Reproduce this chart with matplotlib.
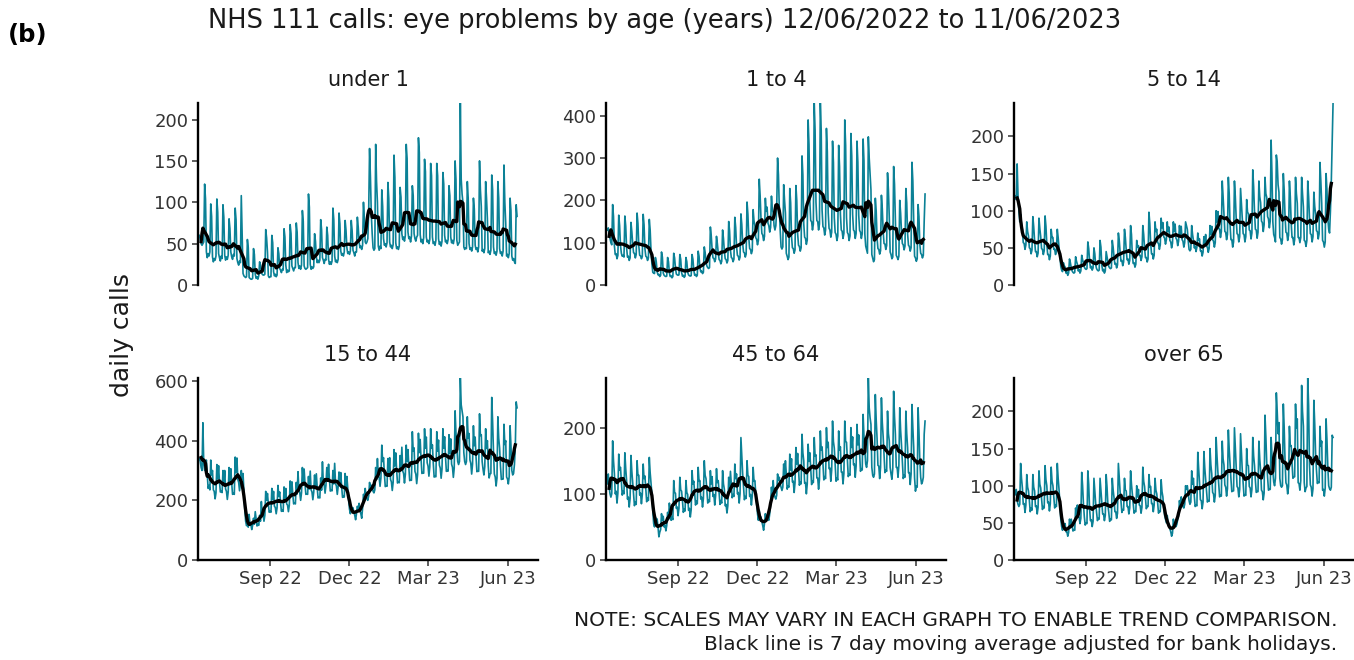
import matplotlib
matplotlib.use('Agg')
import matplotlib.pyplot as plt
import matplotlib.dates as mdates
import numpy as np
import pandas as pd

plt.rcParams['font.family'] = 'DejaVu Sans'

# daily calls, 12/06/2022 (Sun) .. 11/06/2023, one row per week Sun..Sat
dates = pd.date_range('2022-06-12', '2023-06-11', freq='D')

under_1 = [
    60, 55, 50, 48, 50, 52, 122,
    104, 40, 33, 38, 35, 40, 98,
    83, 34, 28, 32, 30, 35, 104,
    88, 38, 33, 29, 35, 32, 97,
    82, 36, 30, 34, 31, 36, 80,
    68, 40, 34, 31, 37, 35, 93,
    79, 32, 27, 24, 29, 27, 108,
    60, 14, 11, 10, 9, 10, 55,
    45, 9, 8, 7, 7, 8, 44,
    37, 13, 8, 10, 7, 11, 28,
    24, 15, 13, 12, 12, 13, 67,
    57, 40, 11, 9, 10, 10, 60,
    51, 16, 11, 13, 10, 12, 45,
    38, 20, 18, 15, 19, 18, 68,
    58, 24, 15, 18, 16, 17, 73,
    62, 23, 20, 17, 21, 21, 75,
    64, 27, 20, 23, 19, 24, 90,
    77, 23, 20, 19, 20, 21, 110,
    94, 25, 19, 22, 20, 22, 62,
    53, 34, 27, 30, 27, 30, 79,
    67, 33, 30, 26, 31, 30, 70,
    60, 31, 25, 28, 25, 29, 93,
    79, 35, 28, 30, 27, 31, 87,
    74, 41, 36, 38, 35, 40, 78,
    66, 45, 38, 40, 37, 41, 78,
    66, 42, 39, 35, 40, 40, 82,
    70, 52, 45, 47, 43, 48, 100,
    80, 52, 50, 52, 56, 90, 165,
    130, 85, 62, 45, 42, 44, 170,
    125, 100, 47, 42, 47, 44, 115,
    95, 56, 48, 50, 46, 51, 124,
    105, 52, 46, 48, 44, 49, 157,
    130, 51, 44, 46, 43, 47, 118,
    106, 62, 55, 58, 53, 60, 170,
    153, 64, 56, 58, 52, 59, 120,
    108, 62, 56, 53, 58, 60, 178,
    160, 61, 52, 55, 50, 57, 152,
    137, 58, 52, 54, 50, 55, 147,
    132, 58, 50, 52, 48, 54, 147,
    132, 56, 49, 52, 47, 53, 136,
    122, 60, 52, 54, 50, 55, 120,
    108, 58, 51, 54, 50, 56, 150,
    128, 54, 48, 50, 52, 220, 128,
    110, 100, 46, 43, 45, 44, 125,
    105, 50, 43, 45, 41, 46, 105,
    92, 48, 43, 45, 40, 46, 150,
    115, 95, 41, 43, 39, 44, 125,
    105, 80, 39, 41, 37, 42, 133,
    115, 46, 38, 40, 36, 41, 125,
    105, 44, 38, 40, 35, 41, 145,
    100, 75, 35, 37, 33, 38, 105,
    90, 35, 30, 32, 28, 26, 97,
    83,
]

age_1_4 = [
    130, 135, 120, 110, 100, 95, 190,
    162, 93, 72, 74, 62, 70, 165,
    140, 94, 75, 68, 70, 66, 163,
    139, 88, 66, 68, 58, 64, 148,
    126, 97, 76, 75, 64, 72, 170,
    145, 92, 70, 69, 62, 67, 167,
    142, 86, 68, 66, 58, 64, 155,
    130, 80, 50, 30, 28, 27, 65,
    55, 31, 24, 25, 20, 23, 78,
    66, 28, 23, 21, 20, 21, 65,
    55, 29, 20, 22, 17, 20, 75,
    64, 40, 26, 24, 23, 24, 72,
    61, 30, 21, 23, 18, 21, 65,
    55, 30, 24, 22, 21, 22, 72,
    61, 35, 23, 25, 20, 23, 80,
    68, 41, 31, 33, 27, 30, 90,
    77, 55, 45, 41, 39, 41, 137,
    116, 84, 64, 63, 55, 61, 115,
    98, 76, 60, 58, 50, 56, 130,
    110, 80, 62, 60, 52, 58, 150,
    128, 82, 65, 63, 55, 61, 160,
    136, 91, 70, 68, 59, 66, 168,
    143, 99, 78, 76, 66, 73, 196,
    167, 112, 86, 84, 74, 81, 178,
    151, 141, 112, 108, 95, 105, 250,
    212, 157, 122, 118, 105, 115, 205,
    174, 184, 146, 140, 125, 136, 210,
    178, 170, 140, 130, 140, 180, 300,
    260, 180, 130, 90, 85, 90, 237,
    200, 170, 75, 68, 60, 66, 228,
    194, 114, 88, 86, 75, 83, 235,
    200, 121, 94, 91, 80, 88, 305,
    260, 145, 113, 110, 96, 106, 390,
    332, 196, 152, 150, 130, 144, 430,
    365, 196, 152, 150, 130, 144, 430,
    365, 177, 138, 135, 118, 130, 370,
    315, 171, 134, 130, 113, 125, 340,
    290, 159, 124, 120, 105, 116, 330,
    280, 167, 130, 127, 110, 122, 390,
    330, 159, 124, 120, 105, 116, 358,
    305, 167, 130, 127, 110, 122, 340,
    290, 165, 129, 125, 110, 121, 345,
    293, 120, 92, 84, 75, 350, 300,
    260, 225, 72, 64, 55, 60, 205,
    175, 111, 86, 84, 73, 81, 212,
    180, 127, 98, 97, 84, 93, 265,
    225, 160, 78, 72, 62, 66, 280,
    238, 150, 70, 66, 60, 68, 200,
    170, 126, 98, 95, 83, 92, 228,
    194, 121, 94, 91, 80, 88, 290,
    246, 150, 68, 64, 56, 62, 190,
    162, 96, 75, 72, 64, 70, 150,
    215,
]

age_5_14 = [
    120, 115, 163, 120, 100, 85, 95,
    80, 75, 57, 56, 48, 54, 85,
    72, 66, 50, 49, 42, 47, 92,
    78, 60, 45, 45, 38, 43, 90,
    76, 65, 49, 48, 41, 46, 93,
    79, 55, 41, 41, 34, 39, 75,
    64, 64, 48, 48, 41, 46, 75,
    64, 50, 40, 25, 20, 18, 30,
    26, 24, 16, 18, 13, 16, 35,
    30, 23, 19, 17, 16, 17, 38,
    32, 28, 19, 21, 16, 19, 40,
    34, 30, 24, 22, 21, 22, 58,
    49, 33, 23, 25, 20, 23, 50,
    42, 27, 22, 20, 19, 20, 60,
    51, 27, 19, 21, 16, 19, 45,
    38, 31, 25, 23, 22, 23, 60,
    51, 38, 28, 29, 23, 27, 70,
    60, 44, 32, 33, 26, 31, 75,
    64, 47, 34, 35, 28, 33, 80,
    68, 40, 29, 30, 24, 28, 60,
    51, 53, 40, 40, 33, 38, 80,
    68, 50, 37, 37, 31, 35, 98,
    83, 56, 42, 42, 35, 40, 85,
    72, 75, 57, 56, 48, 54, 90,
    77, 84, 65, 63, 55, 61, 85,
    72, 78, 60, 58, 50, 56, 85,
    72, 82, 63, 61, 53, 59, 80,
    68, 79, 61, 59, 51, 57, 85,
    80, 75, 60, 48, 46, 48, 80,
    68, 60, 50, 52, 45, 51, 70,
    60, 62, 46, 46, 39, 44, 65,
    55, 68, 52, 51, 44, 49, 80,
    68, 79, 61, 59, 51, 57, 100,
    85, 99, 76, 75, 64, 72, 140,
    119, 94, 72, 71, 61, 68, 145,
    123, 80, 61, 61, 51, 58, 140,
    119, 90, 69, 68, 58, 65, 130,
    110, 90, 69, 68, 58, 65, 115,
    98, 96, 74, 73, 62, 70, 155,
    132, 98, 75, 74, 63, 71, 140,
    119, 111, 86, 84, 72, 81, 145,
    123, 118, 92, 89, 77, 86, 195,
    150, 85, 68, 64, 58, 175, 165,
    135, 125, 64, 62, 55, 61, 150,
    128, 92, 71, 70, 60, 67, 140,
    119, 84, 64, 64, 54, 61, 145,
    123, 110, 64, 64, 57, 64, 145,
    123, 105, 60, 59, 52, 60, 140,
    119, 90, 69, 68, 58, 65, 125,
    106, 95, 73, 72, 62, 69, 165,
    140, 110, 60, 58, 51, 58, 150,
    128, 90, 75, 70, 100, 140, 190,
    245,
]

age_15_44 = [
    340, 330, 310, 300, 460, 320, 300,
    320, 335, 285, 240, 250, 235, 335,
    285, 300, 235, 230, 205, 225, 320,
    272, 316, 262, 228, 230, 226, 300,
    255, 300, 238, 230, 203, 228, 310,
    264, 306, 258, 220, 224, 220, 345,
    293, 342, 270, 260, 232, 258, 300,
    270, 290, 230, 170, 130, 115, 120,
    110, 153, 118, 118, 102, 116, 140,
    120, 162, 138, 114, 120, 116, 150,
    130, 196, 152, 152, 130, 150, 230,
    200, 223, 188, 160, 163, 160, 240,
    204, 230, 180, 176, 155, 175, 250,
    213, 228, 192, 163, 168, 163, 245,
    208, 240, 188, 184, 162, 183, 265,
    225, 262, 220, 188, 190, 188, 260,
    221, 296, 234, 226, 200, 225, 310,
    264, 305, 256, 220, 222, 220, 280,
    238, 298, 235, 228, 202, 227, 285,
    242, 289, 242, 208, 210, 208, 275,
    234, 329, 260, 252, 224, 250, 310,
    264, 321, 270, 231, 234, 232, 300,
    255, 324, 256, 248, 220, 246, 295,
    251, 293, 246, 210, 213, 211, 290,
    246, 280, 240, 200, 170, 155, 180,
    165, 175, 160, 150, 135, 155, 180,
    170, 190, 165, 155, 140, 175, 220,
    210, 240, 215, 205, 200, 215, 260,
    240, 250, 250, 230, 225, 235, 310,
    270, 340, 285, 276, 247, 275, 385,
    330, 343, 287, 246, 249, 247, 340,
    290, 343, 270, 262, 233, 260, 370,
    315, 359, 302, 258, 262, 259, 350,
    300, 378, 298, 290, 258, 287, 385,
    330, 370, 310, 266, 268, 267, 430,
    365, 376, 297, 288, 256, 286, 425,
    360, 404, 338, 290, 293, 291, 440,
    375, 412, 326, 315, 281, 312, 440,
    375, 386, 324, 278, 280, 279, 430,
    365, 402, 318, 308, 274, 305, 440,
    375, 413, 346, 297, 300, 298, 420,
    357, 406, 321, 311, 277, 308, 500,
    425, 380, 330, 320, 330, 610, 520,
    500, 480, 360, 330, 320, 330, 480,
    408, 424, 335, 324, 288, 322, 450,
    383, 412, 345, 296, 298, 297, 490,
    417, 420, 330, 305, 285, 313, 440,
    374, 400, 315, 275, 288, 290, 545,
    463, 363, 288, 278, 248, 275, 480,
    408, 375, 315, 270, 272, 271, 455,
    387, 400, 278, 272, 255, 280, 450,
    383, 300, 285, 290, 320, 380, 530,
    510,
]

age_45_64 = [
    115, 130, 110, 100, 95, 100, 180,
    150, 131, 100, 104, 86, 101, 160,
    136, 140, 120, 98, 104, 100, 162,
    138, 120, 92, 95, 80, 93, 158,
    134, 117, 101, 82, 88, 84, 150,
    128, 128, 98, 101, 85, 99, 145,
    123, 127, 108, 88, 94, 90, 155,
    132, 115, 100, 75, 55, 50, 65,
    55, 62, 50, 35, 42, 46, 70,
    60, 66, 50, 53, 44, 52, 72,
    61, 86, 74, 60, 65, 61, 120,
    102, 101, 78, 80, 67, 78, 125,
    106, 104, 90, 72, 77, 74, 120,
    102, 99, 75, 78, 65, 76, 135,
    115, 119, 102, 83, 89, 85, 140,
    119, 120, 92, 95, 80, 93, 150,
    128, 123, 105, 86, 91, 88, 135,
    115, 126, 96, 99, 83, 97, 138,
    117, 120, 103, 84, 90, 86, 135,
    115, 107, 82, 84, 71, 82, 125,
    106, 134, 114, 94, 99, 96, 145,
    123, 130, 100, 102, 86, 100, 185,
    157, 130, 111, 91, 96, 93, 150,
    128, 126, 96, 99, 83, 97, 140,
    119, 120, 100, 85, 70, 60, 75,
    64, 65, 58, 52, 45, 55, 70,
    60, 68, 62, 60, 70, 85, 110,
    95, 120, 100, 95, 92, 98, 130,
    120, 125, 115, 110, 105, 110, 145,
    125, 150, 130, 107, 112, 110, 160,
    136, 153, 118, 119, 102, 117, 170,
    145, 161, 137, 113, 118, 115, 190,
    162, 150, 116, 117, 100, 115, 175,
    149, 162, 138, 114, 119, 117, 185,
    157, 159, 124, 124, 107, 122, 195,
    166, 171, 146, 121, 126, 123, 200,
    170, 178, 138, 139, 119, 136, 210,
    179, 169, 144, 119, 124, 121, 195,
    166, 171, 133, 133, 115, 131, 210,
    179, 178, 151, 126, 130, 128, 200,
    170, 186, 144, 145, 125, 142, 205,
    174, 189, 160, 134, 138, 136, 220,
    187, 165, 145, 140, 150, 275, 230,
    215, 205, 140, 128, 125, 130, 250,
    212, 184, 143, 142, 123, 140, 245,
    208, 186, 158, 132, 136, 134, 225,
    191, 180, 140, 130, 122, 138, 255,
    217, 190, 140, 140, 125, 143, 230,
    196, 174, 148, 123, 128, 125, 225,
    191, 170, 132, 132, 114, 130, 235,
    200, 170, 124, 104, 112, 110, 230,
    195, 150, 125, 115, 118, 125, 190,
    210,
]

over_65 = [
    88, 95, 80, 75, 72, 75, 130,
    110, 97, 75, 76, 64, 74, 115,
    98, 93, 80, 65, 70, 67, 115,
    98, 93, 72, 73, 62, 71, 120,
    102, 97, 83, 68, 72, 70, 127,
    108, 100, 77, 78, 66, 76, 125,
    106, 100, 85, 70, 74, 72, 130,
    110, 95, 75, 55, 45, 40, 50,
    42, 49, 38, 38, 32, 37, 55,
    47, 55, 47, 39, 41, 40, 70,
    60, 74, 58, 58, 49, 56, 118,
    100, 75, 58, 47, 50, 49, 120,
    102, 69, 53, 54, 45, 52, 110,
    94, 76, 65, 53, 56, 55, 110,
    94, 80, 62, 62, 53, 60, 115,
    98, 74, 64, 52, 55, 54, 110,
    94, 84, 65, 65, 56, 63, 130,
    110, 92, 79, 64, 68, 67, 110,
    94, 93, 72, 72, 62, 70, 120,
    102, 89, 77, 63, 66, 65, 100,
    85, 95, 74, 73, 63, 71, 125,
    106, 99, 84, 69, 72, 72, 115,
    98, 99, 76, 76, 65, 74, 110,
    94, 89, 77, 63, 66, 65, 108,
    92, 85, 70, 60, 55, 50, 60,
    50, 48, 42, 38, 32, 36, 55,
    48, 50, 45, 48, 55, 60, 80,
    70, 85, 75, 72, 70, 75, 100,
    95, 100, 90, 80, 75, 78, 120,
    102, 110, 86, 72, 74, 73, 145,
    123, 104, 81, 80, 69, 78, 146,
    124, 109, 93, 78, 80, 79, 150,
    128, 116, 91, 89, 78, 87, 165,
    140, 119, 101, 85, 87, 86, 160,
    136, 128, 101, 98, 86, 96, 175,
    149, 128, 109, 92, 93, 93, 178,
    151, 127, 99, 97, 85, 95, 170,
    145, 120, 102, 86, 88, 87, 150,
    128, 127, 99, 97, 85, 95, 165,
    140, 127, 107, 91, 92, 92, 160,
    136, 120, 94, 92, 81, 90, 195,
    166, 131, 111, 94, 95, 95, 165,
    140, 120, 105, 100, 110, 225, 200,
    170, 185, 110, 100, 98, 100, 210,
    178, 133, 104, 101, 89, 99, 180,
    153, 154, 130, 110, 112, 112, 210,
    178, 190, 104, 103, 94, 107, 235,
    200, 180, 104, 92, 97, 99, 245,
    208, 128, 101, 98, 86, 96, 215,
    183, 143, 121, 103, 105, 104, 180,
    153, 160, 94, 95, 86, 97, 190,
    162, 125, 100, 96, 94, 98, 168,
    165,
]

panel_names = ['under 1', '1 to 4', '5 to 14', '15 to 44', '45 to 64', 'over 65']
panel_data = [under_1, age_1_4, age_5_14, age_15_44, age_45_64, over_65]
panel_yticks = [[0, 50, 100, 150, 200], [0, 100, 200, 300, 400], [0, 50, 100, 150, 200],
                [0, 200, 400, 600], [0, 100, 200], [0, 50, 100, 150, 200]]
x_ticks = pd.to_datetime(['2022-09-01', '2022-12-01', '2023-03-01', '2023-06-01'])

teal = '#0b8196'
txt = '#333333'

fig = plt.figure(figsize=(13.54, 6.60), dpi=100)
W, H = 1354, 660
lefts = [198, 606, 1014]
tops = [103, 378]
aw, ah = 340, 182

for i in range(6):
    row, col = i // 3, i % 3
    ax = fig.add_axes([lefts[col] / W, 1 - (tops[row] + ah) / H, aw / W, ah / H])
    y = np.array(panel_data[i], dtype=float)
    ma = pd.Series(y).rolling(7, center=True, min_periods=6).mean()
    ax.plot(dates, y, color=teal, lw=1.2)
    ax.plot(dates, ma, color='black', lw=2.4)
    ax.set_ylim(0, y.max())
    ax.set_xlim(dates[0] - pd.Timedelta(days=1.6), dates[0] + pd.Timedelta(days=388))
    for s in ['top', 'right']:
        ax.spines[s].set_visible(False)
    ax.spines['left'].set_linewidth(1.7)
    ax.spines['left'].set_color('black')
    ax.set_yticks(panel_yticks[i])
    ax.tick_params(axis='y', length=4, width=1.1, color=txt, labelsize=13,
                   labelcolor=txt, pad=3)
    if row == 0:
        ax.spines['bottom'].set_visible(False)
        ax.set_xticks([])
    else:
        ax.spines['bottom'].set_linewidth(1.7)
        ax.spines['bottom'].set_color('black')
        ax.set_xticks(x_ticks)
        ax.xaxis.set_major_formatter(mdates.DateFormatter('%b %y'))
        ax.tick_params(axis='x', length=4, width=1.1, color=txt, labelsize=13,
                       labelcolor=txt, pad=3)
    ax.patch.set_visible(False)
    ax.text(0.5, 1 + 23 / ah, panel_names[i], transform=ax.transAxes,
            ha='center', va='center', fontsize=15, color='#1a1a1a')

fig.text(8 / W, 1 - 35 / H, '(b)', fontsize=17.5, fontweight='bold', ha='left', va='center')
fig.text(665 / W, 1 - 21 / H, 'NHS 111 calls: eye problems by age (years) 12/06/2022 to 11/06/2023',
         fontsize=18.5, ha='center', va='center', color='#1a1a1a')
fig.text(122 / W, 1 - 335 / H, 'daily calls', rotation=90, fontsize=18,
         ha='center', va='center', color='#1a1a1a')
fig.text(1337 / W, 1 - 620 / H, 'NOTE: SCALES MAY VARY IN EACH GRAPH TO ENABLE TREND COMPARISON.',
         fontsize=14.5, ha='right', va='center', color='#1a1a1a')
fig.text(1337 / W, 1 - 645 / H, 'Black line is 7 day moving average adjusted for bank holidays.',
         fontsize=14.5, ha='right', va='center', color='#1a1a1a')

fig.savefig('out.png', dpi=100)
